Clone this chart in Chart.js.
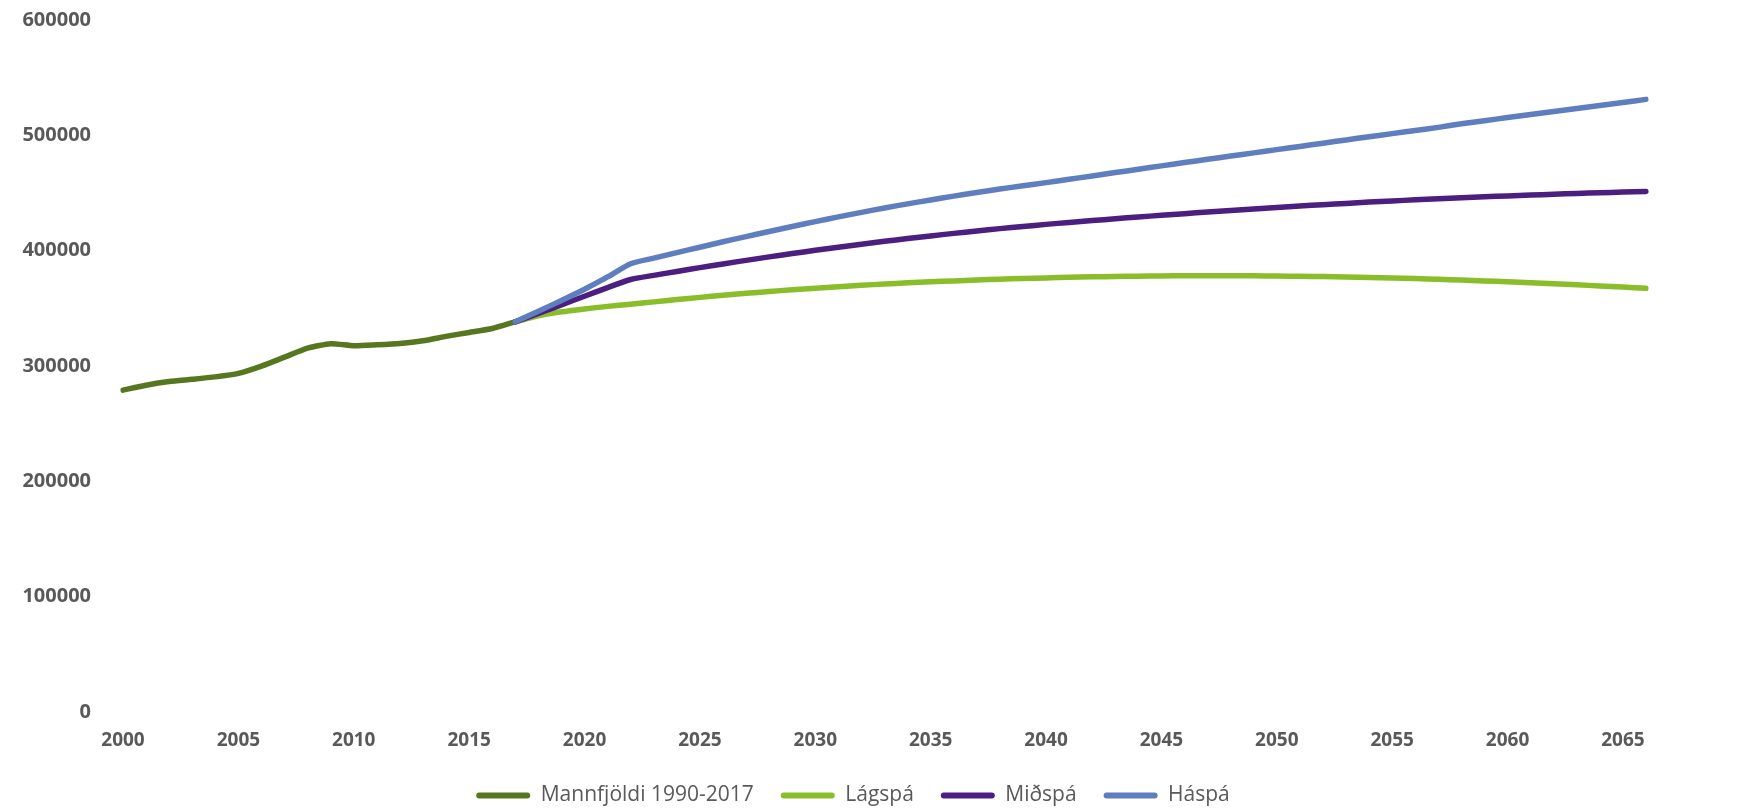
<!DOCTYPE html>
<html lang="is">
<head>
    <meta charset="UTF-8">
    <title>Mannfjöldaspá</title>
    <script src="https://cdn.jsdelivr.net/npm/chart.js"></script>
    <style>
        body { margin: 0; background: #fff; }
    </style>
</head>
<body>
    <canvas id="popChart" width="1737" height="808"></canvas>

    <script>
        // years on the x axis
        const years = [];
        for (let y = 2000; y <= 2066; y++) years.push(String(y));

        // Mannfjöldi 1. jan, 2000-2017
        const mannfjoldi = [279049, 283361, 286575, 288471, 290570, 293577, 299891, 307672, 315459, 319368,
            317630, 318452, 319575, 321857, 325671, 329100, 332529, 338349];

        // spár 2017-2066 (þúsundir)
        const lagspa = [338.3, 343.5, 347.0, 349.5, 351.7, 353.5, 355.6, 357.6, 359.5, 361.3,
            363.0, 364.6, 366.1, 367.5, 368.8, 370.0, 371.1, 372.1, 373.0, 373.8,
            374.6, 375.3, 375.9, 376.4, 376.9, 377.3, 377.6, 377.9, 378.1, 378.2,
            378.3, 378.3, 378.2, 378.0, 377.8, 377.5, 377.2, 376.8, 376.3, 375.8,
            375.2, 374.5, 373.8, 373.0, 372.2, 371.3, 370.4, 369.4, 368.4, 367.4];
        const midspa = [338.3, 345.5, 353.0, 360.5, 368.0, 375.0, 378.6, 382.0, 385.3, 388.5,
            391.6, 394.6, 397.5, 400.3, 403.0, 405.6, 408.1, 410.5, 412.8, 415.0,
            417.1, 419.1, 421.0, 422.8, 424.5, 426.1, 427.7, 429.2, 430.7, 432.1,
            433.5, 434.9, 436.2, 437.5, 438.7, 439.9, 441.0, 442.1, 443.1, 444.1,
            445.0, 445.9, 446.7, 447.5, 448.2, 448.9, 449.6, 450.2, 450.8, 451.4];
        const haspa = [338.3, 347.5, 356.8, 366.5, 377.2, 388.7, 393.5, 398.3, 403.0, 407.7,
            412.2, 416.6, 421.0, 425.2, 429.3, 433.2, 437.0, 440.6, 444.0, 447.3,
            450.4, 453.4, 456.3, 459.0, 461.9, 464.8, 467.7, 470.6, 473.5, 476.4,
            479.2, 482.0, 484.8, 487.6, 490.4, 493.2, 496.0, 498.8, 501.5, 504.2,
            506.9, 510.0, 512.7, 515.4, 518.0, 520.6, 523.2, 525.8, 528.4, 531.2];

        const yTicks = [0, 100000, 200000, 300000, 400000, 500000, 600000];

        const gray = '#595959';
        const lead = years.indexOf('2017');

        function fromStart(vals) {
            return years.map((y, i) => i < vals.length ? vals[i] : null);
        }
        function projection(vals) {
            return years.map((y, i) => i >= lead ? Math.round(vals[i - lead] * 1000) : null);
        }

        function series(label, data, color, order) {
            return {
                label: label,
                data: data,
                borderColor: color,
                backgroundColor: color,
                borderWidth: 5.5,
                borderCapStyle: 'round',
                borderJoinStyle: 'round',
                pointRadius: 0,
                tension: 0.2,
                order: order
            };
        }

        // legend sits a bit right of the centre in the original
        const nudgeLegend = {
            id: 'nudgeLegend',
            afterLayout(chart) {
                if (chart.legend) chart.legend.left += 40;
            }
        };

        const ctx = document.getElementById('popChart').getContext('2d');
        new Chart(ctx, {
            type: 'line',
            data: {
                labels: years,
                datasets: [
                    series('Mannfjöldi 1990-2017', fromStart(mannfjoldi), '#56761F', 3),
                    series('Lágspá', projection(lagspa), '#8ABD2A', 2),
                    series('Miðspá', projection(midspa), '#4B1E80', 1),
                    series('Háspá', projection(haspa), '#5F7EBF', 0)
                ]
            },
            plugins: [nudgeLegend],
            options: {
                responsive: false,
                animation: false,
                layout: { padding: { top: 20, left: 20, right: 91, bottom: -8 } },
                plugins: {
                    tooltip: { enabled: false },
                    legend: {
                        position: 'bottom',
                        labels: {
                            color: gray,
                            font: { family: 'Open Sans', size: 21 },
                            boxWidth: 54,
                            boxHeight: 6,
                            padding: 27,
                            useBorderRadius: true,
                            borderRadius: 3,
                            sort: (a, b) => a.datasetIndex - b.datasetIndex,
                            generateLabels: (chart) => Chart.defaults.plugins.legend.labels.generateLabels(chart)
                                .map(item => Object.assign(item, { lineWidth: 0 }))
                        }
                    }
                },
                scales: {
                    x: {
                        grid: { display: false, drawTicks: false },
                        border: { display: false },
                        ticks: {
                            autoSkip: false,
                            maxRotation: 0,
                            padding: 17,
                            color: gray,
                            font: { family: 'Open Sans', size: 19, weight: 'bold' },
                            callback: function (value) {
                                const y = Number(this.getLabelForValue(value));
                                return y % 5 === 0 ? String(y) : '';
                            }
                        },
                        afterFit: (s) => { s.height = 46; }
                    },
                    y: {
                        min: 0,
                        max: 600000,
                        grid: { display: false, drawTicks: false },
                        border: { display: false },
                        afterBuildTicks: (s) => { s.ticks = yTicks.map(v => ({ value: v })); },
                        afterFit: (s) => {
                            s.width = 103;
                            s.paddingTop = 0;
                            s.paddingBottom = 0;
                        },
                        ticks: {
                            padding: 32,
                            color: gray,
                            font: { family: 'Open Sans', size: 20, weight: 'bold' },
                            callback: (v) => String(v)
                        }
                    }
                }
            }
        });
    </script>
</body>
</html>
